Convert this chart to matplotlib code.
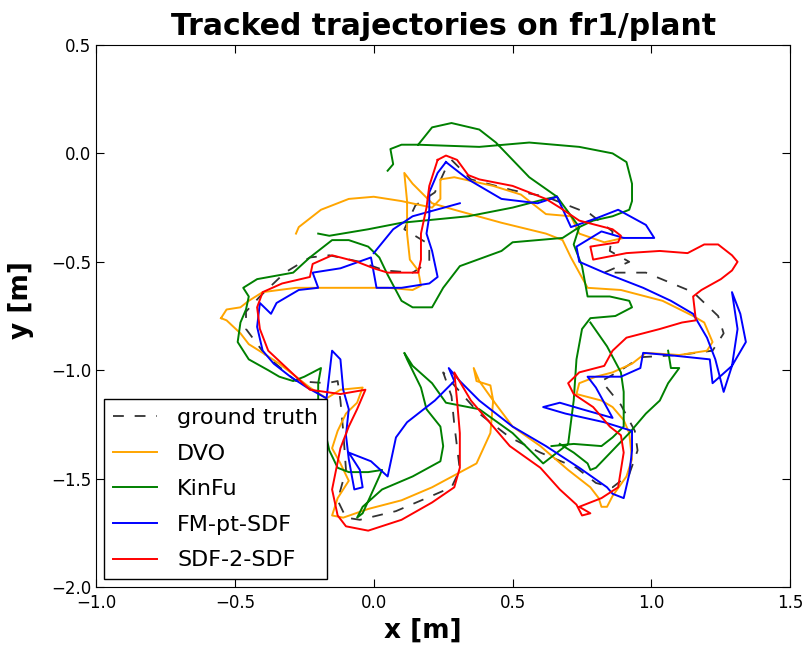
import numpy as np
import matplotlib
matplotlib.use('Agg')
import matplotlib.pyplot as plt

nan = np.nan

# trajectories, (x, y) in metres
ground_truth = [
    (0.28, -0.03), (0.35, -0.12), (0.50, -0.17), (0.62, -0.20), (0.78, -0.28),
    (0.86, -0.36), (0.85, -0.45), (0.92, -0.50), (0.83, -0.55), (0.98, -0.55),
    (1.15, -0.64), (1.24, -0.75), (1.26, -0.83), (1.22, -0.91), (1.10, -0.93),
    (0.96, -0.94), (0.89, -1.00), (0.82, -1.05), (0.89, -1.16), (0.94, -1.28),
    (0.95, -1.37), (0.92, -1.48), (0.86, -1.54), (0.80, -1.52), (0.73, -1.45),
    (0.60, -1.38), (0.49, -1.31), (0.38, -1.20), (0.29, -1.07), (0.25, -1.01),
    (0.28, -1.12), (0.29, -1.25), (0.31, -1.46), (0.28, -1.54), (0.19, -1.59),
    (0.08, -1.65), (-0.05, -1.69), (-0.10, -1.68), (-0.13, -1.60), (-0.10, -1.46),
    (-0.11, -1.28), (-0.12, -1.14), (-0.13, -1.05), (-0.17, -1.06), (-0.28, -1.05),
    (-0.39, -0.93), (-0.46, -0.81), (-0.46, -0.73), (-0.41, -0.66), (-0.32, -0.55),
    (-0.23, -0.48), (-0.16, -0.47), (-0.05, -0.50), (0.04, -0.54), (0.14, -0.55),
    (0.20, -0.50), (0.20, -0.42), (0.11, -0.35), (0.15, -0.24), (0.22, -0.18),
    (0.27, -0.04),
]

dvo = [
    (-0.28, -0.37), (-0.27, -0.34), (-0.19, -0.26), (-0.09, -0.21), (0.00, -0.20),
    (0.10, -0.22), (0.21, -0.25), (0.24, -0.21), (0.24, -0.12), (0.29, -0.11),
    (0.43, -0.15), (0.53, -0.19), (0.62, -0.28), (0.71, -0.29), (0.74, -0.37),
    (0.83, -0.41), (0.90, -0.39), (nan, nan),
    (-0.55, -0.76), (-0.53, -0.72), (-0.48, -0.71), (-0.45, -0.68), (-0.40, -0.64),
    (-0.28, -0.62), (-0.18, -0.62), (0.05, -0.62), (0.14, -0.63), (0.17, -0.61),
    (0.16, -0.54), (0.13, -0.49), (0.12, -0.37), (0.12, -0.22), (0.11, -0.09),
    (0.14, -0.14), (0.21, -0.23), (0.29, -0.26), (0.46, -0.32), (0.62, -0.37),
    (0.68, -0.40), (0.71, -0.48), (0.77, -0.62), (0.89, -0.63), (1.04, -0.68),
    (1.15, -0.75), (1.19, -0.78), (1.22, -0.87), (1.20, -0.91), (1.10, -0.93),
    (0.98, -0.92), (0.93, -0.97), (0.86, -1.01), (0.80, -1.03), (0.74, -1.06),
    (0.73, -1.11), (0.82, -1.14), (0.86, -1.17), (0.90, -1.23), (0.92, -1.29),
    (0.93, -1.41), (0.91, -1.49), (0.86, -1.58), (0.84, -1.63), (0.82, -1.63),
    (0.81, -1.59), (0.78, -1.54), (0.70, -1.46), (0.60, -1.35), (0.50, -1.26),
    (0.43, -1.14), (0.38, -1.05), (0.36, -0.99), (0.37, -1.05), (0.42, -1.07),
    (0.43, -1.14), (0.42, -1.29), (0.37, -1.43), (0.21, -1.54), (0.10, -1.60),
    (-0.02, -1.64), (-0.11, -1.68), (-0.15, -1.67), (-0.13, -1.59), (-0.09, -1.51),
    (-0.12, -1.43), (-0.15, -1.36), (-0.13, -1.28), (-0.10, -1.20), (-0.06, -1.15),
    (-0.04, -1.08), (-0.12, -1.09), (-0.17, -1.13), (-0.23, -1.08), (-0.28, -1.03),
    (-0.34, -0.97), (-0.40, -0.92), (-0.45, -0.88), (-0.48, -0.83), (-0.53, -0.77),
    (-0.55, -0.76),
]

kinfu = [
    (0.05, -0.08), (0.07, -0.05), (0.06, 0.02), (0.10, 0.04), (0.16, 0.04),
    (0.38, 0.03), (0.56, 0.05), (0.74, 0.03), (0.86, 0.00), (0.91, -0.04),
    (0.93, -0.14), (0.93, -0.22), (0.92, -0.26), (0.86, -0.29), (0.79, -0.31),
    (0.74, -0.34), (0.68, -0.39), (0.50, -0.41), (0.46, -0.45), (0.31, -0.52),
    (0.25, -0.62), (0.21, -0.71), (0.14, -0.71), (0.10, -0.68), (0.05, -0.56),
    (0.02, -0.48), (-0.02, -0.43), (-0.09, -0.40), (-0.15, -0.40), (-0.23, -0.48),
    (-0.29, -0.55), (-0.42, -0.58), (-0.47, -0.62), (-0.45, -0.66), (-0.46, -0.72),
    (-0.48, -0.78), (-0.49, -0.87), (-0.45, -0.95), (-0.38, -1.00), (-0.34, -1.03),
    (-0.29, -1.05), (-0.25, -1.03), (-0.19, -0.99), (-0.20, -1.06), (-0.20, -1.14),
    (-0.16, -1.37), (-0.13, -1.45), (-0.09, -1.47), (-0.02, -1.47), (0.03, -1.46),
    (0.02, -1.49), (-0.04, -1.66), (-0.06, -1.68), (-0.04, -1.63), (0.03, -1.55),
    (0.14, -1.49), (0.24, -1.42), (0.25, -1.35), (0.24, -1.26), (0.19, -1.18),
    (0.17, -1.08), (0.12, -0.95), (0.11, -0.92), (0.14, -0.98), (0.21, -1.06),
    (0.26, -1.15), (0.38, -1.18), (0.50, -1.29), (0.61, -1.43), (0.70, -1.34),
    (0.72, -1.14), (0.73, -0.95), (0.75, -0.81), (0.78, -0.76), (0.87, -0.75),
    (0.93, -0.71), (0.92, -0.68), (0.85, -0.66), (0.77, -0.66), (0.75, -0.52),
    (0.72, -0.42), (0.74, -0.34), (0.66, -0.20), (0.56, -0.11), (0.50, -0.03),
    (0.44, 0.05), (0.38, 0.11), (0.28, 0.14), (0.21, 0.12), (0.16, 0.04),
    (nan, nan),
    (-0.20, -0.37), (-0.16, -0.38), (-0.02, -0.35), (0.10, -0.32), (0.34, -0.29),
    (0.50, -0.25), (0.62, -0.21), (0.66, -0.20),
    (nan, nan),
    (0.78, -0.78), (0.84, -0.89), (0.89, -1.01), (0.90, -1.10), (0.90, -1.26),
    (0.86, -1.31), (0.82, -1.35), (0.72, -1.34), (0.64, -1.35),
    (nan, nan),
    (1.06, -0.91), (1.07, -0.99), (1.10, -0.99), (1.06, -1.06), (1.03, -1.14),
    (0.98, -1.20), (0.92, -1.29), (0.86, -1.37), (0.80, -1.45), (0.78, -1.46),
    (0.77, -1.43), (0.72, -1.38), (0.67, -1.34),
]

fm_pt_sdf = [
    (0.26, -0.04), (0.34, -0.12), (0.46, -0.21), (0.59, -0.23), (0.66, -0.20),
    (0.71, -0.34), (0.80, -0.30), (0.88, -0.26), (0.98, -0.33), (1.01, -0.39),
    (0.90, -0.39), (0.82, -0.36), (0.73, -0.43), (0.74, -0.50), (0.83, -0.55),
    (0.97, -0.62), (1.07, -0.68), (1.15, -0.74), (1.20, -0.85), (1.23, -0.95),
    (1.26, -1.10), (1.29, -0.98), (1.34, -0.87), (1.32, -0.74), (1.29, -0.64),
    (1.31, -0.81), (1.29, -0.98), (1.22, -1.06), (1.21, -0.95), (1.06, -0.93),
    (0.97, -0.92), (0.96, -0.99), (0.89, -1.03), (0.77, -1.03), (0.80, -1.08),
    (0.86, -1.22), (0.75, -1.18), (0.67, -1.15), (0.61, -1.17), (0.69, -1.20),
    (0.83, -1.24), (0.93, -1.28), (0.93, -1.37), (0.92, -1.48), (0.90, -1.59),
    (0.86, -1.57), (0.84, -1.54), (0.74, -1.45), (0.62, -1.35), (0.50, -1.26),
    (0.38, -1.14), (0.31, -1.05), (0.27, -0.99), (0.29, -1.05), (0.22, -1.14),
    (0.12, -1.24), (0.08, -1.31), (0.06, -1.43), (0.05, -1.49), (-0.01, -1.42),
    (-0.09, -1.38), (-0.05, -1.46), (-0.04, -1.54), (-0.07, -1.55), (-0.09, -1.41),
    (-0.10, -1.30), (-0.09, -1.18), (-0.11, -1.09), (-0.12, -0.95), (-0.15, -0.91),
    (-0.16, -1.02), (-0.17, -1.13), (-0.24, -1.08), (-0.30, -1.03), (-0.36, -0.97),
    (-0.40, -0.91), (-0.42, -0.80), (-0.41, -0.69), (-0.37, -0.74), (-0.35, -0.69),
    (-0.27, -0.63), (-0.20, -0.62), (-0.22, -0.55), (-0.12, -0.53), (-0.01, -0.48),
    (0.01, -0.62), (0.10, -0.62), (0.20, -0.60), (0.23, -0.57), (0.21, -0.45),
    (0.19, -0.37), (0.20, -0.29), (0.20, -0.18), (0.23, -0.09), (0.26, -0.04),
    (nan, nan),
    (0.00, -0.46), (0.07, -0.35), (0.14, -0.29), (0.31, -0.23),
]

sdf_2_sdf = [
    (0.23, -0.03), (0.26, -0.01), (0.30, -0.03), (0.34, -0.10), (0.38, -0.12),
    (0.50, -0.15), (0.62, -0.21), (0.67, -0.25), (0.74, -0.31), (0.86, -0.35),
    (0.89, -0.38), (0.88, -0.41), (0.78, -0.43), (0.79, -0.49), (0.91, -0.46),
    (1.03, -0.45), (1.13, -0.46), (1.19, -0.42), (1.24, -0.42), (1.29, -0.47),
    (1.31, -0.50), (1.29, -0.54), (1.25, -0.58), (1.18, -0.63), (1.15, -0.66),
    (1.16, -0.77), (1.11, -0.78), (1.03, -0.81), (0.97, -0.83), (0.91, -0.85),
    (0.86, -0.91), (0.83, -0.98), (0.74, -1.01), (0.70, -1.06), (0.72, -1.11),
    (0.79, -1.17), (0.85, -1.26), (0.89, -1.30), (0.90, -1.38), (0.88, -1.54),
    (0.82, -1.59), (0.74, -1.63), (0.78, -1.66), (0.75, -1.67), (0.73, -1.62),
    (0.67, -1.55), (0.60, -1.45), (0.49, -1.35), (0.43, -1.26), (0.35, -1.14),
    (0.29, -1.01), (0.30, -1.14), (0.31, -1.29), (0.31, -1.45), (0.29, -1.54),
    (0.21, -1.61), (0.10, -1.69), (-0.02, -1.74), (-0.10, -1.72), (-0.13, -1.67),
    (-0.15, -1.55), (-0.12, -1.36), (-0.09, -1.26), (-0.06, -1.18), (-0.03, -1.09),
    (-0.12, -1.11), (-0.23, -1.09), (-0.33, -0.97), (-0.38, -0.91), (-0.41, -0.81),
    (-0.42, -0.71), (-0.40, -0.64), (-0.33, -0.60), (-0.23, -0.57), (-0.22, -0.51),
    (-0.15, -0.47), (-0.06, -0.50), (0.00, -0.53), (0.05, -0.55), (0.16, -0.55),
    (0.17, -0.49), (0.17, -0.37), (0.19, -0.25), (0.20, -0.15), (0.23, -0.03),
]

series = [
    ('ground truth', ground_truth, 'k'),
    ('DVO', dvo, 'orange'),
    ('KinFu', kinfu, 'g'),
    ('FM-pt-SDF', fm_pt_sdf, 'b'),
    ('SDF-2-SDF', sdf_2_sdf, 'r'),
]

fig = plt.figure(figsize=(8.03, 6.48), dpi=100)
ax = fig.add_axes([0.1196, 0.0941, 0.8646, 0.8365])

for name, pts, col in series:
    xy = np.array(pts, dtype=float)
    if name == 'ground truth':
        ax.plot(xy[:, 0], xy[:, 1], '--', color=col, lw=1.3, alpha=0.8,
                dashes=(6, 6), label=name)
    else:
        ax.plot(xy[:, 0], xy[:, 1], '-', color=col, lw=1.4, label=name)

ax.set_xlim(-1.0, 1.5)
ax.set_ylim(-2.0, 0.5)
ax.set_xticks(np.arange(-1.0, 1.51, 0.5))
ax.set_yticks(np.arange(-2.0, 0.51, 0.5))
ax.tick_params(direction='in', top=True, right=True, length=6, labelsize=12)
ax.tick_params(axis='x', pad=5)

ax.set_title('Tracked trajectories on fr1/plant', fontsize=21.5, fontweight='bold', pad=7)
ax.set_xlabel('x [m]', fontsize=19, fontweight='bold')
ax.set_ylabel('y [m]', fontsize=19, fontweight='bold')
ax.xaxis.set_label_coords(0.471, -0.057)
ax.yaxis.set_label_coords(-0.09, 0.53)

leg = ax.legend(loc='lower left', fontsize=16, fancybox=False, framealpha=1,
                edgecolor='k', borderaxespad=0.35, handlelength=2.0,
                handletextpad=0.9, labelspacing=0.7)
leg.get_frame().set_linewidth(1.0)

plt.savefig('out.png', dpi=100)
